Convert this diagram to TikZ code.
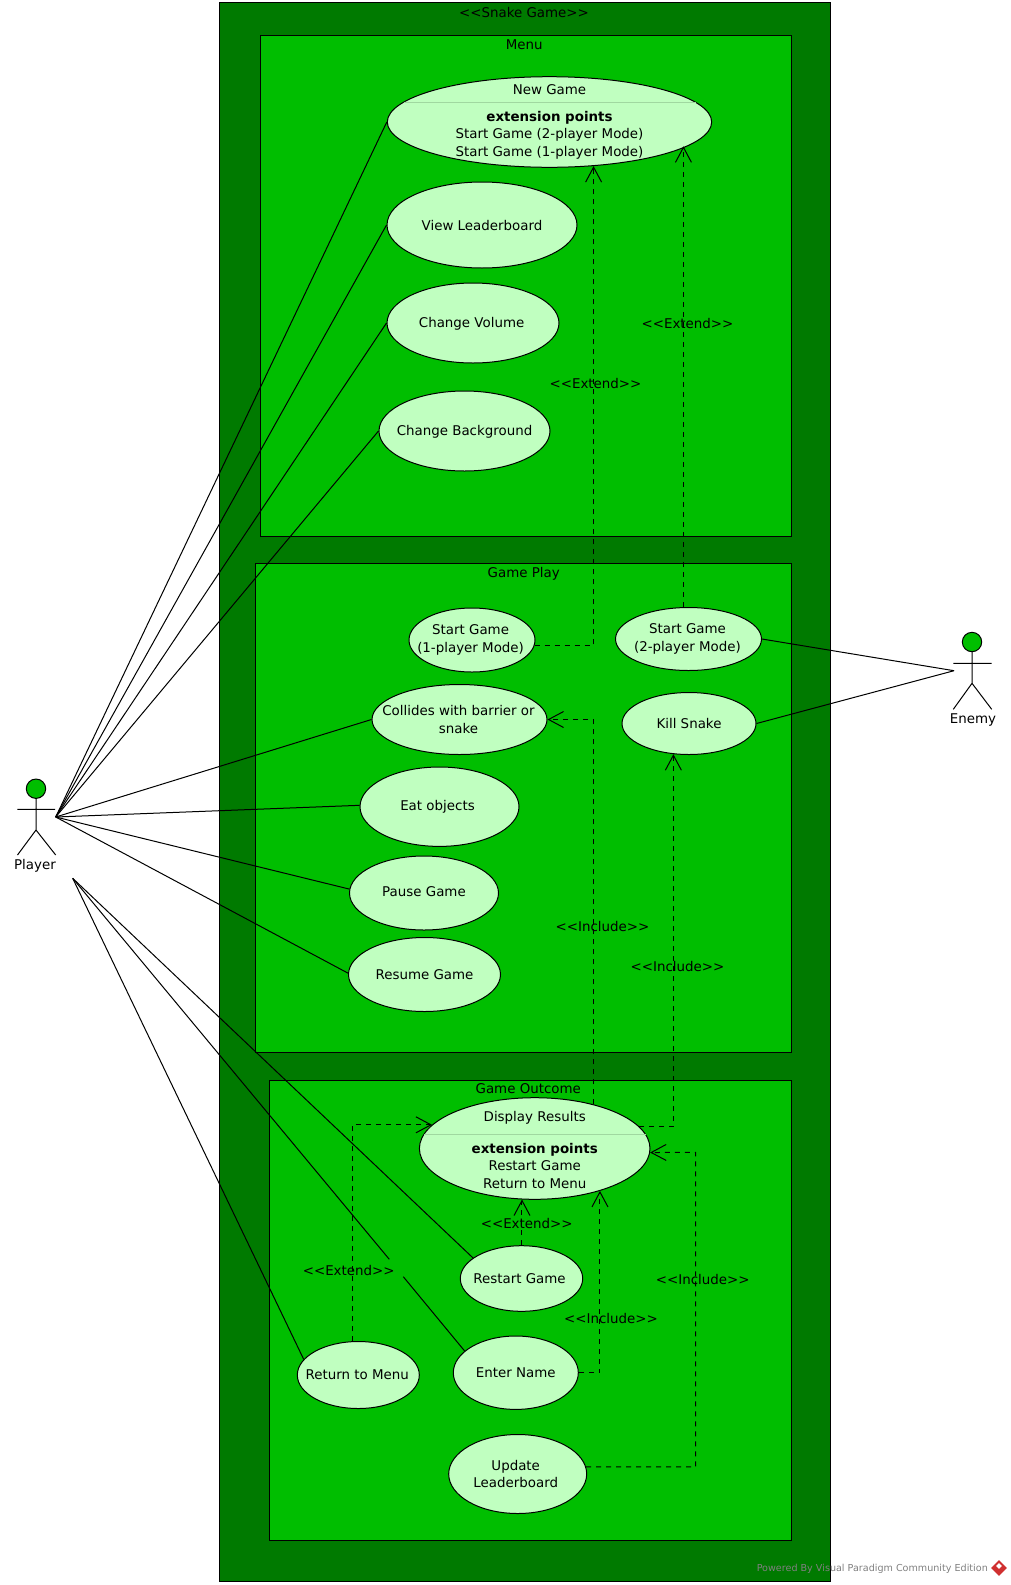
\documentclass[tikz,border=0pt]{standalone}
\usepackage{fontspec}
\setmainfont{DejaVu Sans}
\usetikzlibrary{arrows.meta,shapes.geometric}
\definecolor{framedark}{HTML}{007A00}
\definecolor{framegreen}{HTML}{00BE00}
\definecolor{casefill}{HTML}{C0FFC0}
\definecolor{casesplit}{HTML}{A0D8A0}
\definecolor{logored}{HTML}{D03030}

\begin{document}
\begin{tikzpicture}[x=0.5pt,y=-0.5pt,line width=0.5pt,font=\fontsize{6.7}{8.8}\selectfont,
>={Straight Barb[length=7.5pt,width=8pt]}]
\tikzstyle{usecase} = [ellipse, draw, fill=casefill, inner sep=0pt]
\tikzstyle{casetext} = [align=center, inner sep=0pt]
\tikzstyle{title} = [inner sep=0pt]
\tikzstyle{assoc} = [draw]
\tikzstyle{dep} = [draw, ->, dash pattern=on 2.5pt off 2.5pt]
\tikzstyle{actorhead} = [circle, draw, fill=framegreen, inner sep=0pt, minimum size=9.7pt]
\useasboundingbox (0,0) rectangle (1011,1585);
% frames
\draw [fill=framedark] (219.4,2) rectangle (830,1581);
\draw [fill=framegreen] (260,35.7) rectangle (791.6,536);
\draw [fill=framegreen] (255.8,563) rectangle (791.6,1052.5);
\draw [fill=framegreen] (269,1080.3) rectangle (791.6,1540.5);
\node [title] (snake) at (524,12.3) {<{}<Snake Game>{}>};
\node [title] (menu) at (524.3,45) {Menu};
\node [title] (play) at (523.7,573.5) {Game Play};
\node [title] (outcome) at (528.3,1089) {Game Outcome};
% menu
\node [usecase, minimum width=162.2pt, minimum height=45.3pt, label={[casetext, name=newgametxt]center:New Game\\[4.5pt]\textbf{extension points}\\Start Game (2-player Mode)\\Start Game (1-player Mode)}] (newgame) at (549.5,122) {};
\node [usecase, minimum width=95pt, minimum height=43pt, label={[casetext, name=boardtxt]center:View Leaderboard}] (board) at (482,225) {};
\node [usecase, minimum width=86pt, minimum height=40pt, label={[casetext, name=volumetxt, xshift=-0.7pt, yshift=-0.5pt]center:Change Volume}] (volume) at (473,323) {};
\node [usecase, minimum width=85.5pt, minimum height=40pt, label={[casetext, name=backtxt, yshift=-0.5pt]center:Change Background}] (back) at (464.5,431) {};
% game play
\node [usecase, minimum width=63pt, minimum height=32pt, label={[casetext, name=startonetxt, xshift=-0.7pt]center:Start Game\\(1-player Mode)}] (startone) at (472,640) {};
\node [usecase, minimum width=73pt, minimum height=31.5pt, label={[casetext, name=starttwotxt, xshift=-0.5pt]center:Start Game\\(2-player Mode)}] (starttwo) at (688.5,639) {};
\node [usecase, minimum width=87.5pt, minimum height=35pt, label={[casetext, name=collidetxt, xshift=-0.5pt]center:Collides with barrier or\\snake}] (collide) at (459.5,719.5) {};
\node [usecase, minimum width=67pt, minimum height=31pt, label={[casetext, name=killtxt]center:Kill Snake}] (kill) at (689,723.5) {};
\node [usecase, minimum width=79.5pt, minimum height=39.7pt, label={[casetext, name=eattxt, xshift=-1pt]center:Eat objects}] (eat) at (439.5,806.7) {};
\node [usecase, minimum width=74.5pt, minimum height=37pt, label={[casetext, name=pausetxt, yshift=0.5pt]center:Pause Game}] (pause) at (424,893) {};
\node [usecase, minimum width=76pt, minimum height=37pt, label={[casetext, name=resumetxt]center:Resume Game}] (resume) at (424.5,974.5) {};
% game outcome
\node [usecase, minimum width=115.3pt, minimum height=50.8pt, label={[casetext, name=displaytxt, yshift=-0.8pt]center:Display Results\\[7pt]\textbf{extension points}\\Restart Game\\Return to Menu}] (display) at (534.7,1148.5) {};
\node [usecase, minimum width=61.2pt, minimum height=32.8pt, label={[casetext, name=restarttxt, xshift=-1pt]center:Restart Game}] (restart) at (521.5,1278.5) {};
\node [usecase, minimum width=61pt, minimum height=33.5pt, label={[casetext, name=returntxt, xshift=-0.5pt]center:Return to Menu}] (return) at (358.3,1375) {};
\node [usecase, minimum width=62.5pt, minimum height=36.7pt, label={[casetext, name=entertxt]center:Enter Name}] (enter) at (515.8,1372.7) {};
\node [usecase, minimum width=69pt, minimum height=39.5pt, label={[casetext, name=updatetxt, xshift=-1pt]center:Update\\Leaderboard}] (update) at (517.7,1474) {};
\coordinate (newgamesplit) at (403.5,102.3);
\coordinate (displaysplit) at (424,1134.3);
\draw [casesplit] (newgamesplit) -- (newgamesplit -| 695.5,0);
\draw [casesplit] (displaysplit) -- (displaysplit -| 645.5,0);
% actors
\node [actorhead] (playerhead) at (36,788.7) {};
\draw (playerhead) -- (36,830) -- (17.5,855) (36,830) -- (55.7,855) (17.3,809.3) -- (55,809.3);
\node [title] (player) at (35,866) {Player};
\node [actorhead] (enemyhead) at (972,642) {};
\draw (enemyhead) -- (972,683.3) -- (953.3,709.3) (972,683.3) -- (991.7,709.3) (953.3,663.3) -- (991.7,663.3);
\node [title] (enemy) at (973,720) {Enemy};
\coordinate (playerup) at (55.7,817);
\coordinate (playerdown) at (72.7,878.3);
\coordinate (enemyfoot) at (954,670.7);
\coordinate (gapstart) at (389.3,1259.3);
\coordinate (gapend) at (403.3,1276.7);
\coordinate (updatebend) at (695.7,1152.3);
% associations
\foreach \target in {newgame,board,volume,back,collide}
  \path [assoc] (playerup) -- (\target.west);
\path [assoc] (playerup) -- (eat.179);
\path [assoc] (playerup) -- (pause.177);
\path [assoc] (playerup) -- (resume.179);
\path [assoc] (playerdown) -- (restart.157);
\path [assoc] (playerdown) -- (gapstart);
\path [assoc] (gapend) -- (enter.157);
\path [assoc] (playerdown) -- (return.164);
\path [assoc] (enemyfoot) -- (starttwo.east);
\path [assoc] (enemyfoot) -- (kill.east);
% extend and include
\path [dep] (startone.-5.5) -| (newgame.-45.6);
\path [dep] (starttwo.99) -- (starttwo.99 |- newgame.-10.7);
\path [dep] (display.37.3) |- (collide.east);
\path [dep] (display.12.7) -| (kill.243);
\path [dep] (display.256 |- restart.north) -- (display.256);
\path [dep] (return.100) |- (display.167);
\path [dep] (enter.east) -| (display.-33.7);
\path [dep] (update.6.6) -| (updatebend) -- (display.-2);
\node [title] (extendone) at (595.5,383) {<{}<Extend>{}>};
\node [title] (extendtwo) at (687.5,323.5) {<{}<Extend>{}>};
\node [title] (includeone) at (602.5,926) {<{}<Include>{}>};
\node [title] (includetwo) at (677.5,966.5) {<{}<Include>{}>};
\node [title] (extendthree) at (526.7,1223.3) {<{}<Extend>{}>};
\node [title] (extendfour) at (348.7,1270) {<{}<Extend>{}>};
\node [title] (includethree) at (611,1318.3) {<{}<Include>{}>};
\node [title] (includefour) at (702.7,1279) {<{}<Include>{}>};
% watermark
\node [title, text=gray, font=\fontsize{4.8}{6}\selectfont] (powered) at (872.3,1568.7) {Powered By Visual Paradigm Community Edition};
\node [diamond, fill=logored, inner sep=0pt, minimum size=8pt] (logo) at (999,1568) {};
\node [diamond, fill=white, inner sep=0pt, minimum size=3pt] (logomark) at (999,1566) {};
\end{tikzpicture}
\end{document}
